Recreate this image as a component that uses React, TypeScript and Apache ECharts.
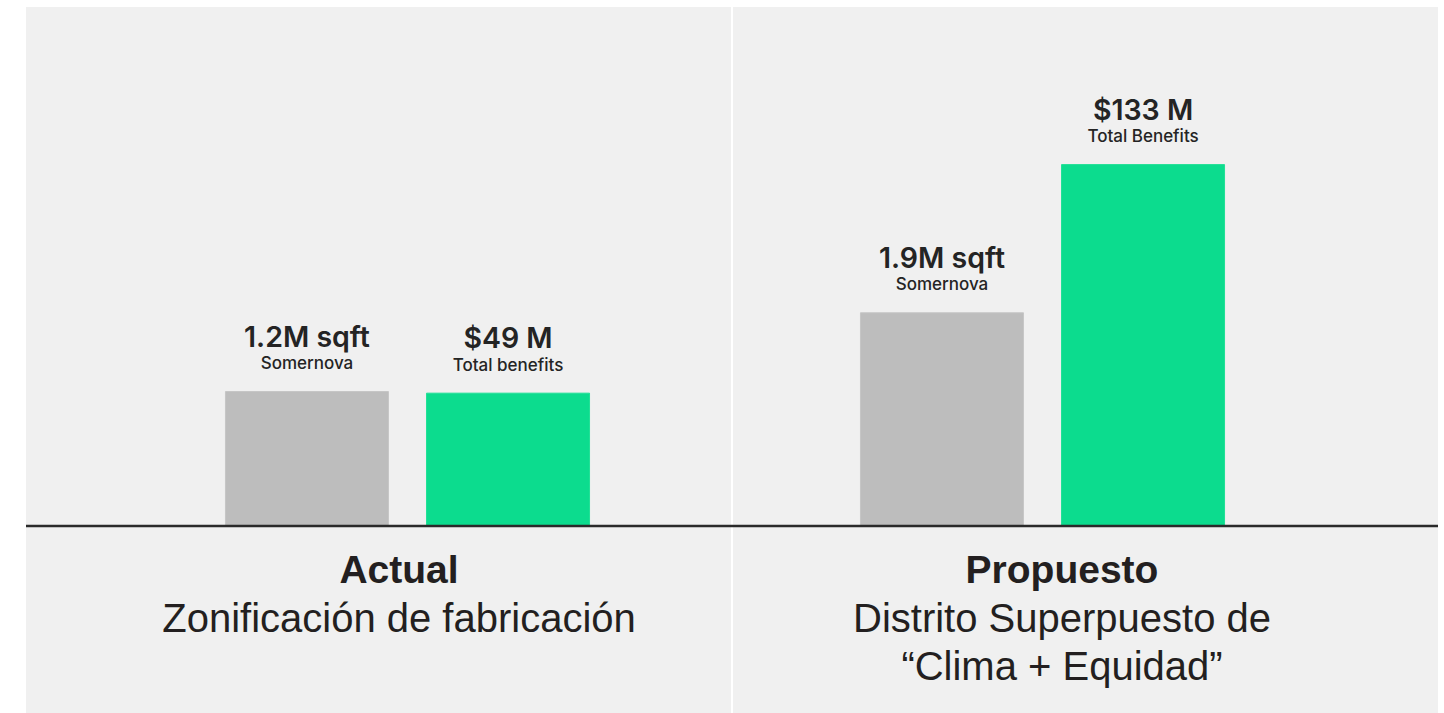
import React, { useEffect, useRef } from "react";
import * as echarts from "echarts";

const categories = ["Actual", "Propuesto"];
const categorySubtitles = [["Zonificación de fabricación"], ["Distrito Superpuesto de", "“Clima + Equidad”"]];
const sqftValues = [1.2, 1.9];
const sqftLabels = ["1.2M sqft", "1.9M sqft"];
const sqftSubLabels = ["Somernova", "Somernova"];
const benefitValues = [49, 133];
const benefitLabels = ["$49 M", "$133 M"];
const benefitSubLabels = ["Total benefits", "Total Benefits"];

const W = 1444;
const H = 713;
const BASE_Y = 526;

export default function App() {
  const ref = useRef<HTMLDivElement>(null);
  useEffect(() => {
    if (!ref.current) return;
    const chart = echarts.init(ref.current, null, { renderer: "svg", width: W, height: H });
    const labelRich = {
      v: { fontFamily: "Inter", fontWeight: 600, fontSize: 28.5, color: "#242424", lineHeight: 34 },
      s: { fontFamily: "Inter", fontWeight: 500, fontSize: 17, color: "#242424", lineHeight: 20 },
    };
    chart.setOption({
      animation: false,
      backgroundColor: "#ffffff",
      grid: { left: 90, right: W - 1360, top: 126, bottom: H - BASE_Y, containLabel: false },
      graphic: [
        { type: "rect", z: -10, shape: { x: 26, y: 7, width: 705, height: H - 7 }, style: { fill: "#f0f0f0" } },
        { type: "rect", z: -10, shape: { x: 733, y: 7, width: 705, height: H - 7 }, style: { fill: "#f0f0f0" } },
        { type: "line", z: 100, shape: { x1: 26, y1: BASE_Y, x2: 1438, y2: BASE_Y }, style: { stroke: "#2a2a2a", lineWidth: 2.5 } },
      ],
      xAxis: {
        type: "category",
        data: categories,
        axisLine: { show: false },
        axisTick: { show: false },
        axisLabel: {
          interval: 0,
          margin: 18,
          formatter: (v: string, i: number) => {
            const tag = i === 0 ? "L" : "R";
            const lines = [`{t${tag}|${v}}`].concat(categorySubtitles[i].map((l) => `{s${tag}|${l}}`));
            return lines.join("\n");
          },
          rich: {
            tL: { fontFamily: "Liberation Sans", fontWeight: "bold", fontSize: 39, color: "#231f20", lineHeight: 50, padding: [0, 17, 0, 0] },
            sL: { fontFamily: "Liberation Sans", fontSize: 40, color: "#231f20", lineHeight: 48, padding: [0, 17, 0, 0] },
            tR: { fontFamily: "Liberation Sans", fontWeight: "bold", fontSize: 39, color: "#231f20", lineHeight: 50, padding: [0, 0, 0, 39] },
            sR: { fontFamily: "Liberation Sans", fontSize: 40, color: "#231f20", lineHeight: 48, padding: [0, 0, 0, 39] },
          },
        },
      },
      yAxis: [
        { type: "value", min: 0, max: 3.556, show: false, splitLine: { show: false } },
        { type: "value", min: 0, max: 147, show: false, splitLine: { show: false } },
      ],
      series: [
        {
          type: "bar",
          name: "Somernova",
          yAxisIndex: 0,
          data: sqftValues,
          barWidth: 164,
          barGap: "22.6%",
          itemStyle: { color: "#bdbdbd", borderColor: "#c6c6c6", borderWidth: 1 },
          label: {
            show: true,
            position: "top",
            distance: 18,
            formatter: (p: any) => `{v|${sqftLabels[p.dataIndex]}}\n{s|${sqftSubLabels[p.dataIndex]}}`,
            rich: labelRich,
          },
        },
        {
          type: "bar",
          name: "Total benefits",
          yAxisIndex: 1,
          data: benefitValues,
          barWidth: 164,
          itemStyle: { color: "#0cdc8e", borderColor: "#1fe096", borderWidth: 1 },
          label: {
            show: true,
            position: "top",
            distance: 18,
            formatter: (p: any) => `{v|${benefitLabels[p.dataIndex]}}\n{s|${benefitSubLabels[p.dataIndex]}}`,
            rich: labelRich,
          },
        },
      ],
    });
    return () => chart.dispose();
  }, []);
  return <div ref={ref} style={{ position: "fixed", left: 0, top: 0, width: W, height: H, background: "#fff" }} />;
}
